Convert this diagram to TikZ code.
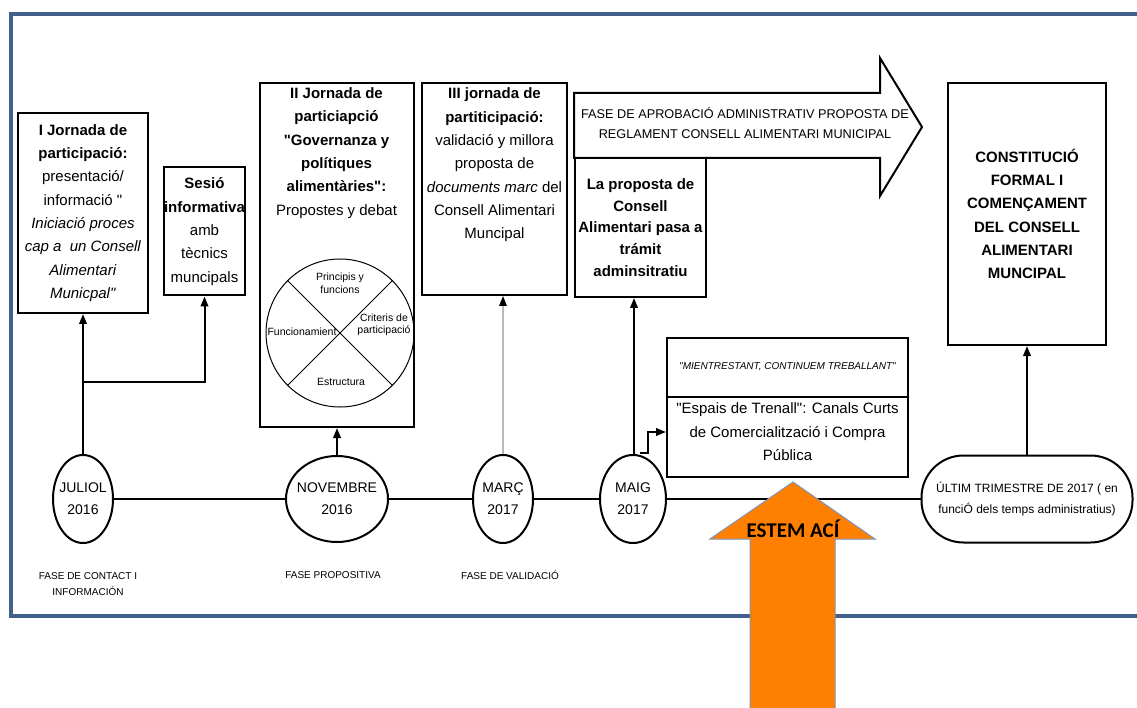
\documentclass[tikz,border=0pt]{standalone}
\usepackage{fontspec}
\setmainfont{Liberation Sans}
\newfontfamily\calib{Carlito}
\usetikzlibrary{arrows.meta,shapes.geometric,calc}
\definecolor{framecol}{HTML}{41608C}
\definecolor{orangecol}{HTML}{FF8000}
\definecolor{orangeedge}{HTML}{7F93B5}
\newcommand{\dq}{\textquotedbl}
\begin{document}
\begin{tikzpicture}[x=1pt,y=-1pt,
  box/.style={draw, line width=2pt, inner sep=0pt, align=center, fill=white},
  conn/.style={line width=2pt, -{Triangle[length=10pt,width=7.5pt]}},
  ell/.style={draw, ellipse, line width=2pt, fill=white, inner sep=-7pt, align=center, font=\fontsize{14}{22}\selectfont},
  big/.style={font=\fontsize{15}{23.3}\selectfont},
  small/.style={inner sep=0pt, align=center, font=\fontsize{10.5}{12.5}\selectfont},
  phase/.style={inner sep=0pt, align=center, font=\fontsize{10}{16}\selectfont}]
\useasboundingbox (0,0) rectangle (1137,708);
% frame
\draw[framecol, line width=4pt] (1137,14) -- (11,14) -- (11,616) -- (1137,616);

% boxes
\node[box, big, minimum width=130pt, minimum height=200pt] (b1) at (83,213)
 {\textbf{I Jornada de}\\\textbf{participació:}\\presentació/\\informació \dq\\\textit{Iniciació proces}\\\textit{cap a\ \ un Consell}\\\textit{Alimentari}\\\textit{Municpal\dq}};
\node[box, big, minimum width=81pt, minimum height=128pt] (b2) at (204.5,231.5)
 {\textbf{Sesió}\\\textbf{informativa}\\amb\\tècnics\\muncipals};
\node[box, minimum width=154pt, minimum height=344pt] (b3) at (336.5,255) {};
\node[big, inner sep=0pt, align=center] (t3) at (336.5,153)
 {\textbf{II Jornada de}\\\textbf{particiapció}\\\textbf{\dq Governanza y}\\\textbf{polítiques}\\\textbf{alimentàries\dq:}\\Propostes y debat};
\node[draw, circle, line width=1pt, minimum size=148pt, inner sep=0pt] (circ) at (340,333) {};
\draw[line width=1pt] (circ.45) -- (circ.225);
\draw[line width=1pt] (circ.135) -- (circ.-45);
\node[small] (c1) at (340,283) {Principis y\\funcions};
\node[small] (c2) at (384,325) {Criteris de\\participació};
\node[small] (c3) at (302,332) {Funcionamient};
\node[small] (c4) at (341,382) {Estructura};

\node[box, minimum width=145pt, minimum height=212pt] (b4) at (494.5,189) {};
\node[big, inner sep=0pt, align=center] (t4) at (494.5,165)
 {\textbf{III jornada de}\\\textbf{partiticipació:}\\validació y millora\\proposta de\\\textit{documents marc} del\\Consell Alimentari\\Muncipal};

% big arrow
\draw[line width=2pt, fill=white] (574,93) -- (880,93) -- (880,58) -- (922,127) -- (880,196) -- (880,158) -- (574,158) -- cycle;
\node[inner sep=0pt, align=center, font=\fontsize{12.7}{20}\selectfont] (apro) at (745,123)
 {FASE DE APROBACIÓ ADMINISTRATIV PROPOSTA DE\\REGLAMENT CONSELL ALIMENTARI MUNICIPAL};

\node[box, font=\fontsize{15}{21.8}\selectfont, minimum width=131pt, minimum height=139pt] (lp) at (640.5,227.5)
 {\textbf{La proposta de}\\\textbf{Consell}\\\textbf{Alimentari pasa a}\\\textbf{trámit}\\\textbf{adminsitratiu}};

\node[box, font=\fontsize{15}{23.3}\selectfont, minimum width=158pt, minimum height=262pt] (b6) at (1027,214)
 {\textbf{CONSTITUCIÓ}\\\textbf{FORMAL I}\\\textbf{COMENÇAMENT}\\\textbf{DEL CONSELL}\\\textbf{ALIMENTARI}\\\textbf{MUNCIPAL}};

% box 5
\node[box, minimum width=241pt, minimum height=139pt] (b5) at (787.5,407.5) {};
\draw[line width=2pt] (b5.west |- 0,397) coordinate (d1) -- (b5.east |- 0,397) coordinate (d2);
\node[inner sep=0pt, font=\fontsize{10}{12}\itshape] (t5a) at (787.5,367) {\dq MIENTRESTANT, CONTINUEM TREBALLANT\dq};
\node[inner sep=0pt, align=center, font=\fontsize{15}{23.5}\selectfont] (t5b) at (787.5,432)
 {\dq Espais de Trenall\dq: Canals Curts\\de Comercialització i Compra\\Pública};

% timeline nodes
\node[ell, minimum width=60pt, minimum height=88pt] (jul) at (83,499) {JULIOL\\2016};
\node[ell, minimum width=102pt, minimum height=86pt] (nov) at (337,499) {NOVEMBRE\\2016};
\node[ell, minimum width=60pt, minimum height=88pt] (mar) at (503,499) {MARÇ\\2017};
\node[ell, minimum width=66pt, minimum height=88pt] (mai) at (633,499) {MAIG\\2017};
\node[draw, rounded corners=42pt, line width=2pt, fill=white, minimum width=211pt, minimum height=87pt, inner sep=0pt, align=center, font=\fontsize{12}{21}\selectfont] (ult) at (1027,499)
 {ÚLTIM TRIMESTRE DE 2017 ( en\\funciÓ dels temps administratius)};

\draw[line width=2.2pt] (jul) -- (nov);
\draw[line width=2.2pt] (nov) -- (mar);
\draw[line width=2.2pt] (mar) -- (mai);
\draw[line width=2.2pt] (mai) -- (ult);

% connectors
\draw[conn] (jul.north) -- (jul.north |- b1.south);
\coordinate (j1) at (83,382);
\draw[conn] (j1) -| (b2.south);
\draw[conn] (nov.north) -- (nov.north |- b3.south);
\draw[line width=1.5pt, gray!55, -{Triangle[length=10pt,width=7.5pt,color=black]}] (mar.north) -- (mar.north |- b4.south);
\draw[conn] ($(mai.north)+(1,0)$) coordinate (m0) -- (m0 |- lp.south);
\coordinate (e0) at (640,453);
\coordinate (e1) at (648,432);
\draw[conn] (e0) -- (e0 -| e1) -- (e1) -- (e1 -| b5.west);
\draw[conn] (ult.north) -- (ult.north |- b6.south);

% phase labels
\node[phase] (p1) at (88,584) {FASE DE CONTACT I\\INFORMACIÓN};
\node[phase] (p2) at (333,575) {FASE PROPOSITIVA};
\node[phase] (p3) at (510,575) {FASE DE VALIDACIÓ};

% orange arrow
\draw[orangeedge, line width=1pt, fill=orangecol] (793,482) -- (875,539) -- (835,539) -- (835,710) -- (750,710) -- (750,539) -- (710,539) -- cycle;
\node[inner sep=0pt, font=\calib\bfseries\fontsize{21}{22}\selectfont] (here) at (793,529) {ESTEM ACÍ};
\end{tikzpicture}
\end{document}
